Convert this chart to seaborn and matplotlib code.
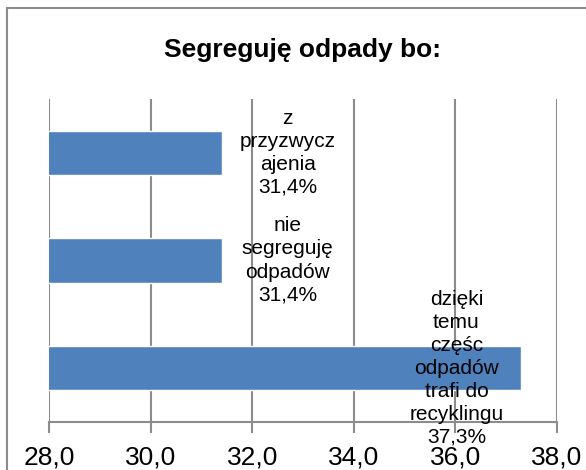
"""Segreguję odpady bo: horizontal bar chart."""
import matplotlib
matplotlib.use("Agg")
import matplotlib.pyplot as plt
import pandas as pd
import seaborn as sns
from matplotlib.patches import Rectangle
from matplotlib.ticker import FuncFormatter

categories = [
    "z przyzwyczajenia",
    "nie segreguję odpadów",
    "dzięki temu część odpadów trafi do recyklingu",
]
values = [31.4, 31.4, 37.3]
label_texts = [
    "z\nprzyzwycz\najenia\n31,4%",
    "nie\nsegreguję\nodpadów\n31,4%",
    "dzięki\ntemu\nczęśc\nodpadów\ntrafi do\nrecyklingu\n37,3%",
]
x_ticks = [28, 30, 32, 34, 36, 38]

sns.set_theme(style="white")
plt.rcParams["font.family"] = ["Liberation Sans", "DejaVu Sans"]
plt.rcParams["text.color"] = "black"
plt.rcParams["xtick.color"] = "black"

W, H = 586, 470
fig = plt.figure(figsize=(W / 100, H / 100), dpi=100)
ax = fig.add_axes([49 / W, 1 - 422 / H, (557 - 49) / W, (422 - 99) / H])

df = pd.DataFrame({"cat": categories, "val": values})
sns.barplot(data=df, y="cat", x="val", orient="h", color="#4F81BD",
            saturation=1, width=0.41, ax=ax)

ax.set_xlim(28, 38)
ax.set_xticks(x_ticks)
ax.xaxis.set_major_formatter(FuncFormatter(lambda x, p: f"{x:.1f}".replace(".", ",")))
ax.tick_params(axis="x", labelsize=19, length=8, width=1.5, color="#8c8c8c",
               labelcolor="black", direction="out", pad=9, bottom=True)
ax.set_yticks([])
ax.set_xlabel("")
ax.set_ylabel("")
ax.grid(axis="x", color="#8c8c8c", linewidth=1.5)
ax.set_axisbelow(True)
for s in ["top", "right", "left"]:
    ax.spines[s].set_visible(False)
ax.spines["bottom"].set_color("#8c8c8c")
ax.spines["bottom"].set_linewidth(1.5)

# data labels: outside end for the short bars, inside end for the long one
offsets = [66, 66, -65]
for i, (v, txt) in enumerate(zip(values, label_texts)):
    ax.annotate(txt, xy=(v, i), xytext=(offsets[i] * 0.72, 0),
                textcoords="offset points", ha="center", va="center",
                fontsize=15, linespacing=1.27, color="black",
                annotation_clip=False)

fig.text(303 / W, 1 - 50 / H, "Segreguję odpady bo:", ha="center", va="center",
         fontsize=19, fontweight="bold", color="black")

fig.patches.append(Rectangle((7 / W, -0.1), 1.2, 1 - 8 / H + 0.1,
                             transform=fig.transFigure, fill=False,
                             edgecolor="#8c8c8c", linewidth=1.5))

fig.savefig("out.png", dpi=100)
